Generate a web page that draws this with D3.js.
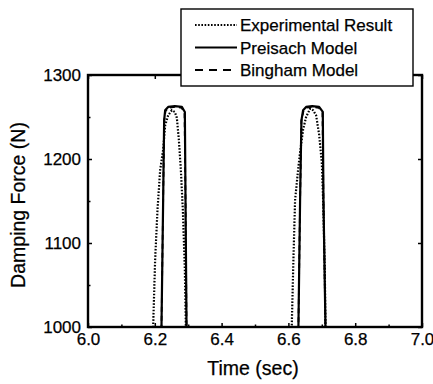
<!DOCTYPE html>
<html><head><meta charset="utf-8">
<script src="https://d3js.org/d3.v7.min.js"></script>
<style>
body{margin:0;background:#fff;}
svg text{font-family:"Liberation Sans",Arial,sans-serif;fill:#000;stroke:#000;stroke-width:0.25px;}
</style></head>
<body><svg id="c" width="433" height="384"></svg>
<script>
// Data (time in sec, damping force in N)
const expTime = [6.00, 6.190, 6.195, 6.201, 6.208, 6.216, 6.225, 6.231, 6.240, 6.251, 6.260, 6.266, 6.272, 6.278, 6.284, 6.290, 6.293, 6.298,
                 6.605, 6.610, 6.615, 6.620, 6.629, 6.635, 6.644, 6.653, 6.665, 6.674, 6.683, 6.692, 6.700, 6.704, 6.709, 6.711, 6.716, 7.00];
const expForce = [900, 900, 1000, 1080, 1139, 1187, 1211, 1240, 1252, 1258, 1256, 1249, 1223, 1187, 1139, 1068, 1000, 900,
                  900, 1000, 1080, 1151, 1187, 1208, 1235, 1250, 1260, 1258, 1252, 1229, 1196, 1151, 1068, 1000, 900, 900];
const preTime = [6.00, 6.215, 6.220, 6.225, 6.228, 6.231, 6.240, 6.260, 6.281, 6.290, 6.292, 6.295, 6.300,
                 6.625, 6.630, 6.635, 6.639, 6.644, 6.653, 6.671, 6.692, 6.703, 6.705, 6.711, 6.716, 7.00];
const preForce = [900, 900, 1000, 1151, 1246, 1258, 1262, 1263, 1262, 1256, 1151, 1000, 900,
                  900, 1000, 1151, 1246, 1258, 1262, 1263, 1262, 1256, 1151, 1000, 900, 900];
const binTime = [6.00, 6.215, 6.220, 6.225, 6.228, 6.232, 6.240, 6.260, 6.280, 6.289, 6.292, 6.295, 6.300,
                 6.625, 6.630, 6.635, 6.639, 6.645, 6.653, 6.671, 6.691, 6.702, 6.705, 6.711, 6.716, 7.00];
const binForce = [900, 900, 1000, 1150, 1245, 1257, 1261, 1262, 1261, 1255, 1150, 1000, 900,
                  900, 1000, 1150, 1245, 1257, 1261, 1262, 1261, 1255, 1150, 1000, 900, 900];
const xTicks = [6.0, 6.2, 6.4, 6.6, 6.8, 7.0];
const xTickLabels = ["6.0", "6.2", "6.4", "6.6", "6.8", "7.0"];
const yTicks = [1000, 1100, 1200, 1300];
const yTickLabels = ["1000", "1100", "1200", "1300"];
const legendLabels = ["Experimental Result", "Preisach Model", "Bingham Model"];

const svg = d3.select("#c");
const m = {l: 88, r: 11, t: 75, b: 57};
const W = 433, H = 384;
const x = d3.scaleLinear().domain([6.0, 7.0]).range([m.l, W - m.r]);
const y = d3.scaleLinear().domain([1000, 1300]).range([H - m.b, m.t]);

svg.append("defs").append("clipPath").attr("id", "clip")
  .append("rect").attr("x", m.l).attr("y", m.t).attr("width", W - m.l - m.r).attr("height", H - m.t - m.b);

const line = d3.line().x(d => x(d[0])).y(d => y(d[1]));
const g = svg.append("g").attr("clip-path", "url(#clip)");
g.append("path").datum(binTime.map((t, i) => [t, binForce[i]]))
  .attr("d", line).attr("fill", "none").attr("stroke", "#000").attr("stroke-width", 1.8).attr("stroke-dasharray", "5 4");
g.append("path").datum(preTime.map((t, i) => [t, preForce[i]]))
  .attr("d", line).attr("fill", "none").attr("stroke", "#000").attr("stroke-width", 2.2).attr("stroke-linejoin", "round");
g.append("path").datum(expTime.map((t, i) => [t, expForce[i]]))
  .attr("d", line).attr("fill", "none").attr("stroke", "#000").attr("stroke-width", 2.2).attr("stroke-dasharray", "1.6 1.6");

// axes with inner ticks
const xMinor = d3.range(6.1, 7.0, 0.2);
const yMinor = [1050, 1150, 1250];
const axB = d3.axisBottom(x).tickValues(xTicks).tickSizeInner(-4).tickSizeOuter(0).tickPadding(6).tickFormat((d, i) => xTickLabels[i]);
const axL = d3.axisLeft(y).tickValues(yTicks).tickSizeInner(-4).tickSizeOuter(0).tickPadding(7).tickFormat((d, i) => yTickLabels[i]);
const gx = svg.append("g").attr("transform", `translate(0,${H - m.b})`).call(axB);
const gy = svg.append("g").attr("transform", `translate(${m.l},0)`).call(axL);
svg.append("g").attr("transform", `translate(0,${H - m.b})`).call(d3.axisBottom(x).tickValues(xMinor).tickSize(-2.5).tickSizeOuter(0).tickFormat(""));
svg.append("g").attr("transform", `translate(${m.l},0)`).call(d3.axisLeft(y).tickValues(yMinor).tickSize(-2.5).tickSizeOuter(0).tickFormat(""));
svg.append("g").attr("transform", `translate(0,${m.t})`).call(d3.axisTop(x).tickValues(xTicks).tickSize(-4).tickSizeOuter(0).tickFormat(""));
svg.append("g").attr("transform", `translate(${W - m.r},0)`).call(d3.axisRight(y).tickValues(yTicks).tickSize(-4).tickSizeOuter(0).tickFormat(""));
svg.selectAll(".domain").remove();
svg.selectAll(".tick line").attr("stroke", "#000").attr("stroke-width", 1.5);
gx.selectAll("text").style("font-size", "17px").attr("dy", "0.71em");
gy.selectAll("text").style("font-size", "17px");

// frame
svg.append("rect").attr("x", m.l).attr("y", m.t).attr("width", W - m.l - m.r).attr("height", H - m.t - m.b)
  .attr("fill", "none").attr("stroke", "#000").attr("stroke-width", 2.4);

// axis titles
svg.append("text").attr("x", 253).attr("y", 375).attr("text-anchor", "middle").style("font-size", "19.5px").text("Time (sec)");
svg.append("text").attr("transform", `translate(25,205) rotate(-90)`).attr("text-anchor", "middle").style("font-size", "19.5px").text("Damping Force (N)");

// legend
const lg = svg.append("g");
lg.append("rect").attr("x", 181).attr("y", 9).attr("width", 232).attr("height", 77).attr("fill", "#fff").attr("stroke", "#000").attr("stroke-width", 1.4);
const dashes = ["1.6 1.6", null, "8 6"];
legendLabels.forEach((lab, i) => {
  const yy = 25 + i * 22.5;
  lg.append("line").attr("x1", 195).attr("x2", 237).attr("y1", yy).attr("y2", yy)
    .attr("stroke", "#000").attr("stroke-width", i === 0 ? 2 : 1.8).attr("stroke-dasharray", dashes[i]);
  lg.append("text").attr("x", 240).attr("y", yy).attr("dy", "0.36em").style("font-size", "17px").text(lab);
});
</script></body></html>
